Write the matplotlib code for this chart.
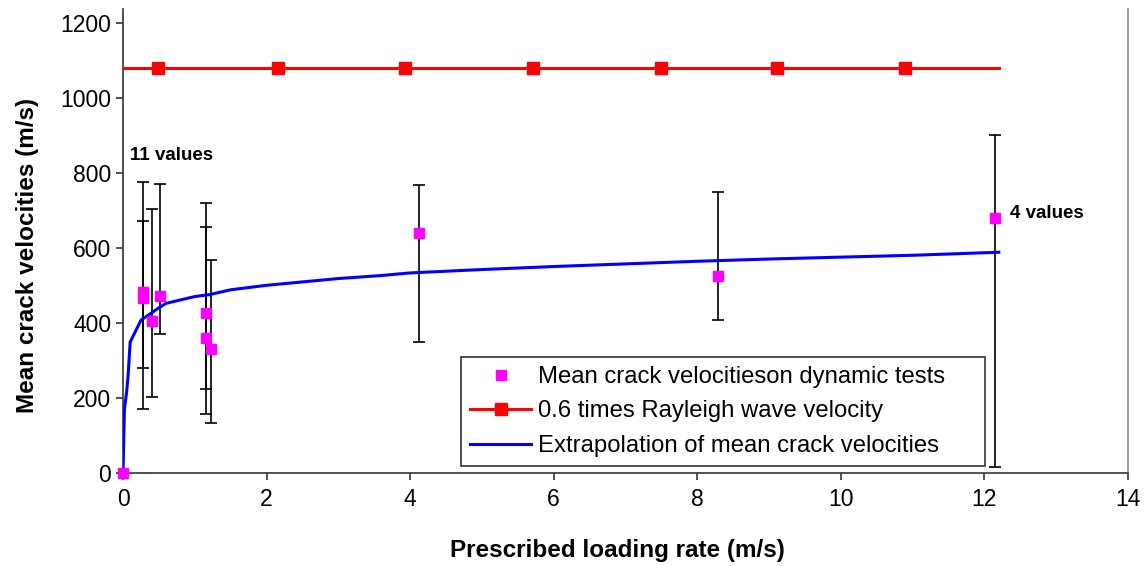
import matplotlib
matplotlib.use("Agg")
import matplotlib.pyplot as plt
import numpy as np

plt.rcParams['font.family'] = ['Liberation Sans', 'DejaVu Sans']

# Mean crack velocities on dynamic tests
pts_x = [0.0, 0.28, 0.28, 0.41, 0.52, 1.15, 1.15, 1.22, 4.12, 8.29, 12.15]
pts_y = [0, 483, 465, 404, 472, 427, 359, 330, 640, 526, 680]

# Error bars (min / max)
err_x = [0.28, 0.28, 0.41, 0.52, 1.155, 1.155, 1.225, 4.12, 8.29, 12.15]
err_lo = [171, 280, 203, 371, 157, 224, 132, 349, 407, 15]
err_hi = [774, 671, 703, 770, 720, 654, 567, 766, 749, 900]

# 0.6 times Rayleigh wave velocity
ray_x = [0.0, 0.49, 2.16, 3.93, 5.71, 7.49, 9.11, 10.89, 12.2]
ray_y = [1080, 1080, 1080, 1080, 1080, 1080, 1080, 1080, 1080]
ray_marker_idx = [1, 2, 3, 4, 5, 6, 7]

# Extrapolation of mean crack velocities
ext_x = [0.0, 0.02, 0.05, 0.07, 0.1, 0.25, 0.5, 0.6, 1.0, 1.2, 1.5, 2.0, 2.5,
         3.0, 3.6, 4.0, 5.0, 6.0, 7.0, 8.0, 9.0, 10.0, 11.0, 12.2]
ext_y = [0, 170, 215, 256, 349, 407, 440, 452, 470, 475, 488, 500, 509,
         518, 526, 533, 542, 550, 557, 564, 570, 575, 580, 588]

fig = plt.figure(figsize=(11.46, 5.66), dpi=100)
ax = fig.add_axes([123/1146, 1-473/566, (1128-123)/1146, (473-9)/566])

ax.errorbar(err_x, [(l+h)/2 for l, h in zip(err_lo, err_hi)],
            yerr=[(h-l)/2 for l, h in zip(err_lo, err_hi)],
            fmt='none', ecolor='black', elinewidth=1.2, capsize=4.5,
            capthick=1.2, zorder=2)

l_ray, = ax.plot(ray_x, ray_y, color='#ff0000', lw=2.2, marker='s',
                 markersize=9, markevery=ray_marker_idx, zorder=3,
                 label='0.6 times Rayleigh wave velocity')
l_ext, = ax.plot(ext_x, ext_y, color='#0000ff', lw=2.2, zorder=3,
                 label='Extrapolation of mean crack velocities')
l_pts, = ax.plot(pts_x, pts_y, ls='none', marker='s', markersize=6.5,
                 color='#ff00ff', zorder=4, clip_on=False,
                 label='Mean crack velocitieson dynamic tests')

ax.set_xlim(0, 14)
ax.set_ylim(0, 1236)
ax.set_xticks(np.arange(0, 15, 2))
ax.set_yticks(np.arange(0, 1201, 200))
ax.tick_params(axis='both', direction='out', length=5, width=1.2,
               labelsize=16.5, color='#333333')
ax.tick_params(axis='x', pad=6)
ax.tick_params(axis='y', pad=3.5)
ax.spines['top'].set_visible(False)
ax.spines['right'].set_color('#a0a0a0')
ax.spines['right'].set_linewidth(1.5)
for s in ['left', 'bottom']:
    ax.spines[s].set_color('#333333')
    ax.spines[s].set_linewidth(1.2)

ax.set_xlabel('Prescribed loading rate (m/s)', fontsize=17.5, fontweight='bold')
ax.set_ylabel('Mean crack velocities (m/s)', fontsize=17.5, fontweight='bold')
ax.xaxis.set_label_coords((617-123)/1005, (473-539)/464)
ax.yaxis.set_label_coords((39-123)/1005, (473-255)/464)

ax.text(0.1, 845, '11 values', fontsize=13.5, fontweight='bold', ha='left',
        va='center')
ax.text(12.35, 690, '4 values', fontsize=13.5, fontweight='bold', ha='left',
        va='center')

leg = ax.legend(handles=[l_pts, l_ray, l_ext], loc='lower left',
                bbox_to_anchor=(461/1146, 1-466/566, (985-461)/1146, (466-356)/566),
                bbox_transform=fig.transFigure, mode='expand', borderaxespad=0,
                fontsize=17.2, frameon=True, fancybox=False, edgecolor='black',
                handlelength=2.55, handletextpad=0.3, labelspacing=0.52,
                borderpad=0.38)
leg.get_frame().set_linewidth(1.2)

fig.savefig('out.png', dpi=100)
